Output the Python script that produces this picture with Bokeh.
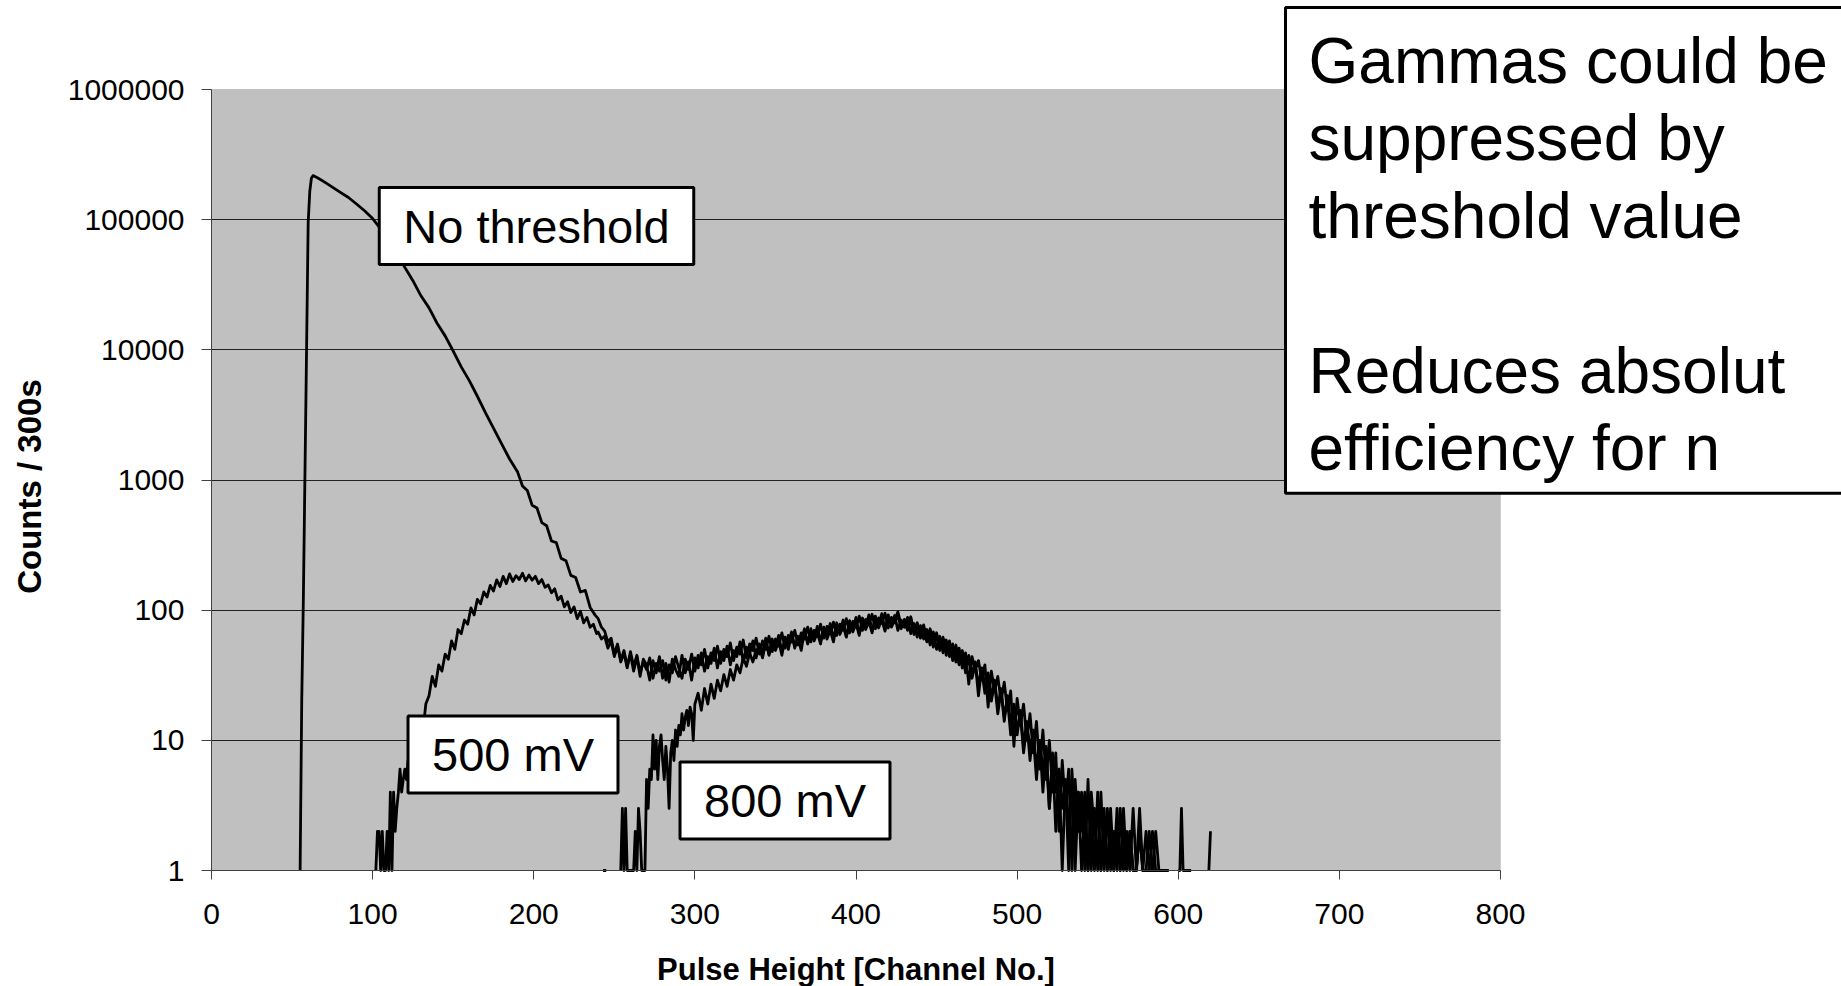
import math
from bokeh.plotting import figure
from bokeh.models import Label, FixedTicker, NumeralTickFormatter, Range1d, BoxAnnotation
from bokeh.embed import file_html
from bokeh.resources import INLINE

nan = float("nan")

# ---------------- data ----------------
x_ticks = [0, 100, 200, 300, 400, 500, 600, 700, 800]
y_ticks = [1, 10, 100, 1000, 10000, 100000, 1000000]
X_MIN, X_MAX = 0, 800
Y_MIN, Y_MAX = 1, 1000000

# "No threshold" series
nt_head_x = [55, 56, 57, 58, 59, 60, 61, 62, 63, 66, 70, 75,
             80, 85, 90, 95, 100, 105, 110, 115, 120, 125, 130, 135, 140, 145,
             150, 155, 160, 165, 170, 175, 180, 185, 190,
             193, 196, 199, 202, 205, 208, 211, 214, 217, 220, 223, 226, 229, 232, 235, 238]
nt_head_y = [1, 20, 120, 1100, 10000, 95000, 165000, 208000, 218000, 209000, 195000, 178000,
             162000, 148000, 132000, 117000, 102000, 85000, 69000, 55000, 43000, 34000, 26000, 21000, 16000, 12800,
             9800, 7400, 5800, 4400, 3300, 2500, 1900, 1450, 1150,
             900, 830, 640, 610, 470, 445, 340, 330, 250, 240, 185, 178, 138, 142, 105, 92]
nt_noisy_start = 240   # channels 240, 242, ... 594
nt_noisy_y = [
    86, 74, 69, 57, 61, 46, 55, 41, 49, 37,
    46, 34, 44, 31, 42, 38, 29, 41, 33, 44,
    30, 39, 28, 42, 35, 31, 45, 33, 40, 29,
    43, 36, 47, 34, 44, 39, 51, 36, 48, 41,
    53, 38, 49, 44, 57, 40, 52, 46, 58, 43,
    55, 47, 61, 45, 57, 52, 64, 48, 60, 55,
    68, 51, 63, 57, 72, 55, 66, 60, 75, 58,
    70, 64, 79, 61, 74, 68, 84, 63, 77, 71,
    88, 66, 81, 74, 92, 69, 84, 76, 94, 71,
    86, 78, 91, 70, 84, 74, 88, 66, 79, 62,
    76, 60, 71, 54, 68, 50, 63, 47, 59, 44,
    55, 40, 51, 36, 47, 27, 44, 35, 41, 29,
    38, 18, 34, 24, 31, 20, 28, 17, 24, 9,
    21, 13, 19, 10, 16, 8, 14, 6, 12, 5,
    10, 4, 8, 2, 7, 3, 6, 1, 5, 2,
    4, 1, 5, 1, 3, 1, 4, 1, 3, 1,
    2, 1, 3, 1, 2, 1, 3, 1, 2, 1,
    1, 2, 1, 1, 1, 1, 1, 1]
nt_tail_x = [596, 598, 600, 601, 602, 603, 604, 606, 608, 610, 618, 619, 620]
nt_tail_y = [nan, nan, 1, 1, 3, 1, 1, 1, 1, nan, nan, 1, 2]

# "500 mV" series
m5_head_x = [102, 103, 104, 105, 106, 107, 108, 109, 110, 111, 112,
             113, 114, 115, 116, 117, 118, 119, 120, 121, 122, 123]
m5_head_y = [1, 2, 2, 1, 2, 1, 1, 2, 1, 4, 1,
             4, 2, 3, 4, 6, 4, 5, 6, 5, 7, 6]
m5_rise_start = 125    # channels 125, 127, ... 239
m5_rise_y = [
    9, 7, 13, 11, 19, 22, 31, 26, 38, 34,
    46, 42, 58, 50, 71, 66, 84, 78, 104, 92,
    121, 112, 138, 126, 155, 140, 171, 152, 182, 160,
    190, 166, 184, 172, 192, 168, 186, 170, 182, 160,
    172, 150, 156, 136, 146, 120, 128, 106, 116, 96,
    106, 86, 98, 80, 88, 74, 78, 66]
m5_noisy_start = 240   # channels 240, 242, ... 594
m5_noisy_y = [
    68, 60, 63, 51, 58, 44, 53, 40, 47, 36,
    48, 37, 45, 33, 40, 35, 43, 30, 39, 34,
    41, 29, 38, 33, 44, 36, 30, 42, 35, 46,
    34, 45, 38, 50, 36, 47, 41, 53, 39, 50,
    44, 56, 41, 52, 46, 59, 43, 55, 49, 61,
    46, 58, 50, 63, 48, 60, 53, 67, 51, 64,
    57, 70, 54, 67, 60, 74, 57, 70, 63, 78,
    61, 75, 66, 81, 64, 78, 70, 86, 67, 82,
    74, 90, 70, 85, 77, 93, 72, 87, 79, 95,
    73, 88, 80, 92, 72, 85, 76, 89, 68, 80,
    64, 77, 58, 72, 55, 67, 51, 62, 48, 58,
    43, 54, 39, 49, 35, 45, 32, 40, 22, 36,
    26, 33, 21, 29, 18, 25, 14, 22, 13, 19,
    11, 17, 9, 14, 7, 12, 6, 10, 4, 9,
    3, 8, 2, 6, 3, 5, 1, 6, 2, 4,
    1, 3, 1, 4, 2, 3, 1, 3, 1, 2,
    1, 3, 1, 2, 1, 2, 1, 1, 3, 1,
    2, 1, 1, 2, 1, 1, 1, 1]

# "800 mV" series
m8_head_x = [243, 245, 247, 254, 255, 256, 257, 258, 259, 260, 262, 263, 264, 265, 266, 267, 268, 269,
             270, 271, 272, 273, 274, 275, 276, 277, 278, 279, 280, 281, 282, 283, 284, 285, 286, 287,
             288, 289, 290, 291, 292, 293, 294, 295, 296, 297, 298, 299, 300, 302, 304, 306, 308, 310,
             312, 314, 316, 318, 320, 322, 324, 326, 328, 330, 332, 334, 336, 338]
m8_head_y = [1, 1, nan, 1, 3, 1, 3, 1, 1, 1, 1, 2, 1, 3, 2, 1, 1, 1,
             5, 3, 6, 5, 11, 6, 10, 5, 9, 11, 7, 5, 9, 6, 3, 8, 10, 7,
             12, 9, 13, 11, 16, 12, 15, 17, 13, 18, 16, 10, 19, 23, 17, 25, 19, 27,
             21, 29, 24, 32, 26, 35, 29, 38, 33, 43, 37, 47, 40, 49]
m8_noisy_start = 340   # channels 340, 342, ... 590
m8_noisy_y = [
    52, 43, 57, 46, 60, 49, 58, 45, 62, 50,
    66, 53, 61, 49, 69, 56, 72, 58, 67, 55,
    74, 60, 70, 57, 80, 65, 76, 62, 83, 68,
    79, 64, 87, 71, 82, 67, 90, 73, 85, 69,
    92, 74, 84, 97, 76, 82, 70, 86, 65, 77,
    61, 74, 57, 69, 52, 65, 49, 60, 45, 56,
    41, 52, 38, 47, 33, 44, 30, 38, 27, 35,
    23, 31, 20, 28, 16, 24, 15, 21, 11, 18,
    12, 16, 8, 13, 9, 11, 5, 10, 6, 8,
    3, 7, 4, 6, 1, 5, 2, 5, 1, 4,
    2, 4, 1, 3, 1, 4, 1, 2, 1, 3,
    1, 2, 1, 3, 1, 2, 1, 1, 2, 1,
    1, 1, 2, 1, 1, 1]


def channels(start, values, step=2):
    return list(range(start, start + step * len(values), step))


nt_x = nt_head_x + channels(nt_noisy_start, nt_noisy_y) + nt_tail_x
nt_y = nt_head_y + nt_noisy_y + nt_tail_y
m5_x = m5_head_x + channels(m5_rise_start, m5_rise_y) + channels(m5_noisy_start, m5_noisy_y)
m5_y = m5_head_y + m5_rise_y + m5_noisy_y
m8_x = m8_head_x + channels(m8_noisy_start, m8_noisy_y)
m8_y = m8_head_y + m8_noisy_y

# ---------------- layout (pixels of the 1841x986 page) ----------------
W, H = 1841, 986
PX_LEFT, PX_RIGHT, PX_TOP, PX_BOTTOM = 211, 1500, 89, 870   # grey plot area
px_per_ch = (PX_RIGHT - PX_LEFT) / (X_MAX - X_MIN)
px_per_dec = (PX_BOTTOM - PX_TOP) / math.log10(Y_MAX / Y_MIN)


def ch_at(px):
    return X_MIN + (px - PX_LEFT) / px_per_ch


def val_at(py):
    return Y_MIN * 10 ** ((PX_BOTTOM - py) / px_per_dec)


FONT = "Liberation Sans"

# The frame covers the whole page; axes sit at fixed locations so that the
# note box may overlap the plot area and the right margin.
p = figure(width=W, height=H,
           x_range=Range1d(ch_at(0), ch_at(W)), y_range=Range1d(val_at(H), val_at(0)),
           y_axis_type="log",
           output_backend="svg", toolbar_location=None, min_border=0)
p.title.visible = False

p.background_fill_color = "white"
p.border_fill_color = "white"
p.outline_line_color = None

p.add_layout(BoxAnnotation(left=X_MIN, right=X_MAX, bottom=Y_MIN, top=Y_MAX,
                           fill_color="#C0C0C0", fill_alpha=1.0,
                           line_color=None, level="image"))

p.xgrid.grid_line_color = None
p.ygrid.ticker = FixedTicker(ticks=y_ticks[1:-1], minor_ticks=[])
p.ygrid.grid_line_color = "#222222"
p.ygrid.grid_line_width = 1
if "cross_bounds" in p.ygrid[0].properties():
    p.ygrid.cross_bounds = (X_MIN, X_MAX)

# white masks left / right of the plot area (hide grid lines there)
p.add_layout(BoxAnnotation(left=ch_at(-60), right=X_MIN, bottom=val_at(H + 60), top=val_at(-60),
                           fill_color="white", fill_alpha=1.0,
                           line_color=None, level="underlay"))
p.add_layout(BoxAnnotation(left=X_MAX, right=ch_at(W + 60), bottom=val_at(H + 60), top=val_at(-60),
                           fill_color="white", fill_alpha=1.0,
                           line_color=None, level="underlay"))
# grey plot-area border
p.add_layout(BoxAnnotation(left=X_MIN, right=X_MAX, bottom=Y_MIN, top=Y_MAX,
                           fill_alpha=0, line_color="#808080", line_width=1,
                           level="underlay"))

p.xaxis.fixed_location = Y_MIN
p.yaxis.fixed_location = X_MIN
p.xaxis.ticker = FixedTicker(ticks=x_ticks, minor_ticks=[])
p.yaxis.ticker = FixedTicker(ticks=y_ticks, minor_ticks=[])
p.yaxis.formatter = NumeralTickFormatter(format="0")
p.xaxis.bounds = (X_MIN, X_MAX)
p.yaxis.bounds = (Y_MIN, Y_MAX)

for ax in (p.xaxis[0], p.yaxis[0]):
    ax.major_label_text_font = FONT
    ax.major_label_text_font_size = "30px"
    ax.major_label_text_color = "black"
    ax.axis_line_color = "#404040"
    ax.axis_line_width = 1
    ax.major_tick_line_color = "#404040"
    ax.minor_tick_line_color = None
    ax.major_tick_in = 0

p.xaxis.major_tick_out = 9
p.yaxis.major_tick_out = 10
p.xaxis.major_label_standoff = 24
p.yaxis.major_label_standoff = 17

# axis titles
p.add_layout(Label(x=(X_MIN + X_MAX) / 2, y=val_at(969), text="Pulse Height [Channel No.]",
                   text_font=FONT, text_font_size="31px", text_font_style="bold",
                   text_color="black", text_align="center", text_baseline="middle"))
p.add_layout(Label(x=ch_at(29), y=val_at(486), angle=math.pi / 2, text="Counts / 300s",
                   text_font=FONT, text_font_size="33px", text_font_style="bold",
                   text_color="black", text_align="center", text_baseline="middle"))

for xs, ys in ((nt_x, nt_y), (m5_x, m5_y), (m8_x, m8_y)):
    p.line(xs, ys, line_color="black", line_width=2.8, line_join="round")

box_style = dict(text_font=FONT, text_color="black",
                 background_fill_color="white",
                 border_line_color="black", border_line_width=3)

p.add_layout(Label(x=ch_at(536), y=val_at(225.5), text="No threshold", text_font_size="47px",
                   text_align="center", text_baseline="middle",
                   padding=dict(left=24, right=24, top=12, bottom=12), **box_style))
p.add_layout(Label(x=ch_at(512.5), y=val_at(754), text="500 mV", text_font_size="47px",
                   text_align="center", text_baseline="middle",
                   padding=dict(left=24, right=24, top=12, bottom=12), **box_style))
p.add_layout(Label(x=ch_at(784.5), y=val_at(800), text="800 mV", text_font_size="47px",
                   text_align="center", text_baseline="middle",
                   padding=dict(left=24, right=24, top=12, bottom=12), **box_style))
p.add_layout(Label(x=ch_at(1285), y=val_at(7),
                   text="Gammas could be\nsuppressed by\nthreshold value\n\nReduces absolut\nefficiency for n",
                   text_font_size="64px", text_line_height=1.077,
                   text_align="left", text_baseline="top",
                   padding=dict(left=23, right=40, top=17, bottom=9), **box_style))

open("out.html", "w").write(file_html(p, INLINE))
